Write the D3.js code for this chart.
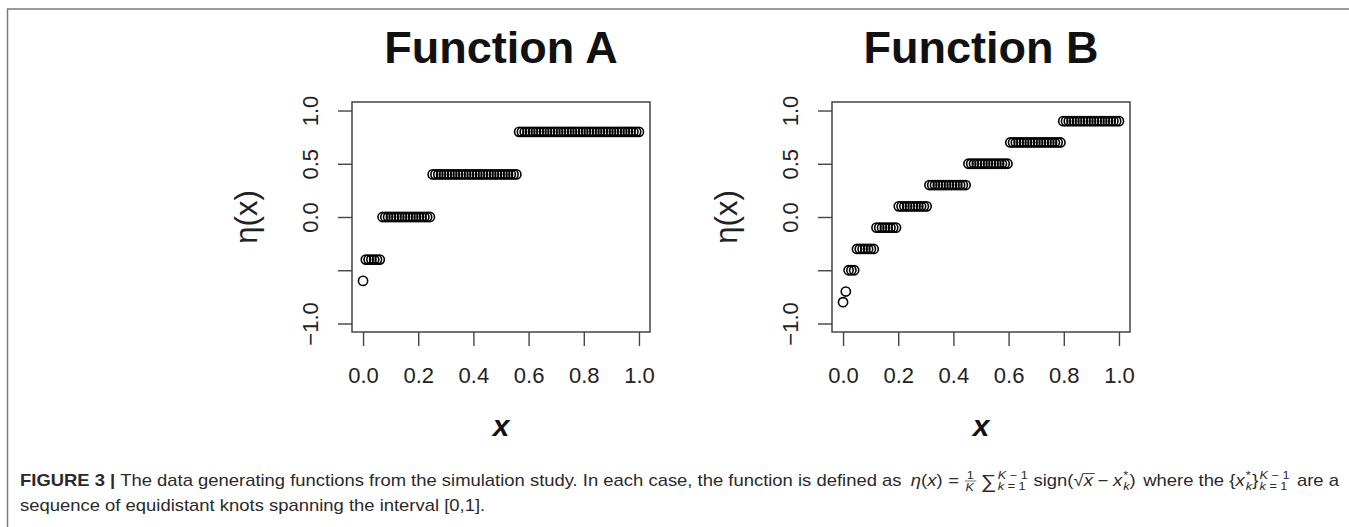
<!DOCTYPE html>
<html>
<head>
<meta charset="utf-8">
<script src="https://d3js.org/d3.v7.min.js"></script>
<style>
  body { margin: 0; background: #fff; }
  svg { display: block; font-family: "Liberation Sans", Arial, Helvetica, sans-serif; }
  svg text { white-space: pre; }
  .tick text { fill: #222; }
  .tick line { stroke: #444; }
</style>
</head>
<body>
<div id="chart"></div>
<script>
  // evaluation grid (100 equally spaced points on [0,1])
  var xs = [
    0, 0.0101, 0.0202, 0.0303, 0.0404, 0.0505, 0.0606, 0.0707, 0.0808, 0.0909,
    0.1010, 0.1111, 0.1212, 0.1313, 0.1414, 0.1515, 0.1616, 0.1717, 0.1818, 0.1919,
    0.2020, 0.2121, 0.2222, 0.2323, 0.2424, 0.2525, 0.2626, 0.2727, 0.2828, 0.2929,
    0.3030, 0.3131, 0.3232, 0.3333, 0.3434, 0.3535, 0.3636, 0.3737, 0.3838, 0.3939,
    0.4040, 0.4141, 0.4242, 0.4343, 0.4444, 0.4545, 0.4646, 0.4747, 0.4848, 0.4949,
    0.5051, 0.5152, 0.5253, 0.5354, 0.5455, 0.5556, 0.5657, 0.5758, 0.5859, 0.5960,
    0.6061, 0.6162, 0.6263, 0.6364, 0.6465, 0.6566, 0.6667, 0.6768, 0.6869, 0.6970,
    0.7071, 0.7172, 0.7273, 0.7374, 0.7475, 0.7576, 0.7677, 0.7778, 0.7879, 0.7980,
    0.8081, 0.8182, 0.8283, 0.8384, 0.8485, 0.8586, 0.8687, 0.8788, 0.8889, 0.8990,
    0.9091, 0.9192, 0.9293, 0.9394, 0.9495, 0.9596, 0.9697, 0.9798, 0.9899, 1
  ];

  // Function A values at each grid point
  var etaA = [
    -0.6, -0.4, -0.4, -0.4, -0.4, -0.4, -0.4, 0, 0, 0,
    0, 0, 0, 0, 0, 0, 0, 0, 0, 0,
    0, 0, 0, 0, 0, 0.4, 0.4, 0.4, 0.4, 0.4,
    0.4, 0.4, 0.4, 0.4, 0.4, 0.4, 0.4, 0.4, 0.4, 0.4,
    0.4, 0.4, 0.4, 0.4, 0.4, 0.4, 0.4, 0.4, 0.4, 0.4,
    0.4, 0.4, 0.4, 0.4, 0.4, 0.4, 0.8, 0.8, 0.8, 0.8,
    0.8, 0.8, 0.8, 0.8, 0.8, 0.8, 0.8, 0.8, 0.8, 0.8,
    0.8, 0.8, 0.8, 0.8, 0.8, 0.8, 0.8, 0.8, 0.8, 0.8,
    0.8, 0.8, 0.8, 0.8, 0.8, 0.8, 0.8, 0.8, 0.8, 0.8,
    0.8, 0.8, 0.8, 0.8, 0.8, 0.8, 0.8, 0.8, 0.8, 0.8
  ];

  // Function B values at each grid point
  var etaB = [
    -0.8, -0.7, -0.5, -0.5, -0.5, -0.3, -0.3, -0.3, -0.3, -0.3,
    -0.3, -0.3, -0.1, -0.1, -0.1, -0.1, -0.1, -0.1, -0.1, -0.1,
    0.1, 0.1, 0.1, 0.1, 0.1, 0.1, 0.1, 0.1, 0.1, 0.1,
    0.1, 0.3, 0.3, 0.3, 0.3, 0.3, 0.3, 0.3, 0.3, 0.3,
    0.3, 0.3, 0.3, 0.3, 0.3, 0.5, 0.5, 0.5, 0.5, 0.5,
    0.5, 0.5, 0.5, 0.5, 0.5, 0.5, 0.5, 0.5, 0.5, 0.5,
    0.7, 0.7, 0.7, 0.7, 0.7, 0.7, 0.7, 0.7, 0.7, 0.7,
    0.7, 0.7, 0.7, 0.7, 0.7, 0.7, 0.7, 0.7, 0.7, 0.9,
    0.9, 0.9, 0.9, 0.9, 0.9, 0.9, 0.9, 0.9, 0.9, 0.9,
    0.9, 0.9, 0.9, 0.9, 0.9, 0.9, 0.9, 0.9, 0.9, 0.9
  ];

  var xTicks = [0, 0.2, 0.4, 0.6, 0.8, 1];
  var yTicks = [-1, -0.5, 0, 0.5, 1];
  var yTickLabels = ["\u22121.0", "", "0.0", "0.5", "1.0"]; // R drops the -0.5 label
  var panelTitles = ["Function A", "Function B"];

  var width = 1349, height = 527;
  var plotTop = 102, plotBottom = 332;

  var svg = d3.select("#chart").append("svg")
    .attr("width", width)
    .attr("height", height);

  // figure frame, only the top and left edges fall inside the picture
  svg.append("path")
    .attr("d", "M7.5," + height + "V9H" + width)
    .attr("fill", "none")
    .attr("stroke", "#7a7a7a")
    .attr("stroke-width", 1.5);

  var panels = [
    {title: panelTitles[0], eta: etaA, left: 352, right: 650},
    {title: panelTitles[1], eta: etaB, left: 832, right: 1130}
  ];

  panels.forEach(function (p) {
    var x = d3.scaleLinear().domain([-0.04, 1.04]).range([p.left, p.right]);
    var y = d3.scaleLinear().domain([-1.08, 1.08]).range([plotBottom, plotTop]);
    var g = svg.append("g");
    var cx = (p.left + p.right) / 2;

    g.append("text")
      .attr("x", cx)
      .attr("y", 63)
      .attr("text-anchor", "middle")
      .attr("font-size", 45)
      .attr("font-weight", "bold")
      .attr("fill", "#111")
      .text(p.title);

    // x axis
    var xa = g.append("g")
      .attr("transform", "translate(0," + plotBottom + ")")
      .call(d3.axisBottom(x).tickValues(xTicks).tickFormat(d3.format(".1f")).tickSize(14).tickSizeOuter(0));
    xa.select(".domain").remove();
    xa.selectAll(".tick line").attr("stroke-width", 1.4);
    xa.selectAll(".tick text")
      .attr("y", 51)
      .attr("dy", null)
      .attr("font-size", 22)
      .attr("font-family", null);

    // y axis, labels parallel to the axis
    var ya = g.append("g")
      .attr("transform", "translate(" + p.left + ",0)")
      .call(d3.axisLeft(y).tickValues(yTicks).tickFormat(function (d, i) {return yTickLabels[i];}).tickSize(14).tickSizeOuter(0));
    ya.select(".domain").remove();
    ya.selectAll(".tick line").attr("stroke-width", 1.4);
    ya.selectAll(".tick text")
      .attr("x", 0)
      .attr("y", 0)
      .attr("dy", "0.36em")
      .attr("transform", "translate(-42,0) rotate(-90)")
      .attr("text-anchor", "middle")
      .attr("font-size", 22)
      .attr("font-family", null);

    // axis titles
    g.append("text")
      .attr("transform", "translate(" + (p.left - 104) + "," + ((plotTop + plotBottom) / 2) + ") rotate(-90)")
      .attr("text-anchor", "middle")
      .attr("dy", "0.3em")
      .attr("font-size", 31)
      .attr("fill", "#222")
      .text("\u03b7(x)");

    g.append("text")
      .attr("x", cx)
      .attr("y", 436)
      .attr("text-anchor", "middle")
      .attr("font-size", 30)
      .attr("font-weight", "bold")
      .attr("font-style", "italic")
      .attr("fill", "#111")
      .text("x");

    // points (R pch = 1)
    g.append("g")
      .selectAll("circle")
      .data(xs)
      .join("circle")
      .attr("cx", function (d) {return x(d);})
      .attr("cy", function (d, i) {return y(p.eta[i]);})
      .attr("r", 4.6)
      .attr("fill", "none")
      .attr("stroke", "#000")
      .attr("stroke-width", 1.6);

    // plot box
    g.append("rect")
      .attr("x", p.left)
      .attr("y", plotTop)
      .attr("width", p.right - p.left)
      .attr("height", plotBottom - plotTop)
      .attr("fill", "none")
      .attr("stroke", "#444")
      .attr("stroke-width", 1.5);
  });

  // ---- caption ----
  var capLeft = 20, capRight = 1339, base1 = 486, base2 = 511;
  var cap = svg.append("g").attr("fill", "#2a2a2a");
  var line1 = cap.append("g");
  var cursor = 0;

  // parts: string or list of [text, italic]
  function put(parent, parts, opts) {
    opts = opts || {};
    if (typeof parts === "string") parts = [[parts, !!opts.italic]];
    var t = parent.append("text")
      .attr("x", cursor + (opts.dx || 0))
      .attr("y", (opts.base || base1) + (opts.dy || 0))
      .attr("font-size", opts.size || 16);
    if (opts.bold) t.attr("font-weight", "bold");
    parts.forEach(function (pt) {
      var s = t.append("tspan").text(pt[0]);
      if (pt[1]) s.attr("font-style", "italic");
    });
    var w = t.node().getComputedTextLength();
    if (!opts.stay) cursor += w + (opts.dx || 0);
    return w;
  }

  function scripts(parent, sup, sub) {
    var w1 = put(parent, sup, {size: 11, dy: -7, stay: true, dx: 1});
    var w2 = put(parent, sub, {size: 11, dy: 4, stay: true, dx: 1});
    cursor += Math.max(w1, w2) + 1;
  }

  function gap(w) { cursor += w; }

  put(line1, "FIGURE 3 |", {bold: true});
  put(line1, " The data generating functions from the simulation study. In each case, the function is defined as ");
  gap(3);
  put(line1, [["\u03b7", true], ["(", false], ["x", true], [")", false]]);
  gap(5);
  put(line1, "=");
  gap(5);
  // 1/K
  var c0 = cursor;
  put(line1, "1", {size: 11, dy: -6.5, stay: true, dx: 1.5});
  put(line1, "K", {size: 11, dy: 5, stay: true, italic: true, dx: 0.5});
  line1.append("line")
    .attr("x1", c0).attr("x2", c0 + 10)
    .attr("y1", base1 - 5).attr("y2", base1 - 5)
    .attr("stroke", "#2a2a2a").attr("stroke-width", 0.6);
  gap(14);
  put(line1, "\u2211", {size: 19, dy: 2});
  scripts(line1, [["K", true], [" \u2212 1", false]], [["k", true], [" = 1", false]]);
  gap(5);
  put(line1, "sign(");
  put(line1, "\u221a");
  var r1 = cursor;
  put(line1, "x", {italic: true});
  line1.append("line")
    .attr("x1", r1 - 0.5).attr("x2", cursor + 1.5)
    .attr("y1", base1 - 12.5).attr("y2", base1 - 12.5)
    .attr("stroke", "#2a2a2a").attr("stroke-width", 0.8);
  gap(4);
  put(line1, "\u2212");
  gap(4);
  put(line1, "x", {italic: true});
  scripts(line1, "*", [["k", true]]);
  put(line1, ")");
  gap(2);
  put(line1, " where the {");
  put(line1, "x", {italic: true});
  scripts(line1, "*", [["k", true]]);
  put(line1, "}");
  scripts(line1, [["K", true], [" \u2212 1", false]], [["k", true], [" = 1", false]]);
  gap(2);
  put(line1, " are a");

  var sx = (capRight - capLeft) / cursor;
  line1.attr("transform", "translate(" + capLeft + ",0) scale(" + sx + ",1)");

  var line2 = cap.append("g");
  cursor = 0;
  put(line2, "sequence of equidistant knots spanning the interval [0,1].", {base: base2});
  line2.attr("transform", "translate(" + capLeft + ",0) scale(" + sx + ",1)");
</script>
</body>
</html>
